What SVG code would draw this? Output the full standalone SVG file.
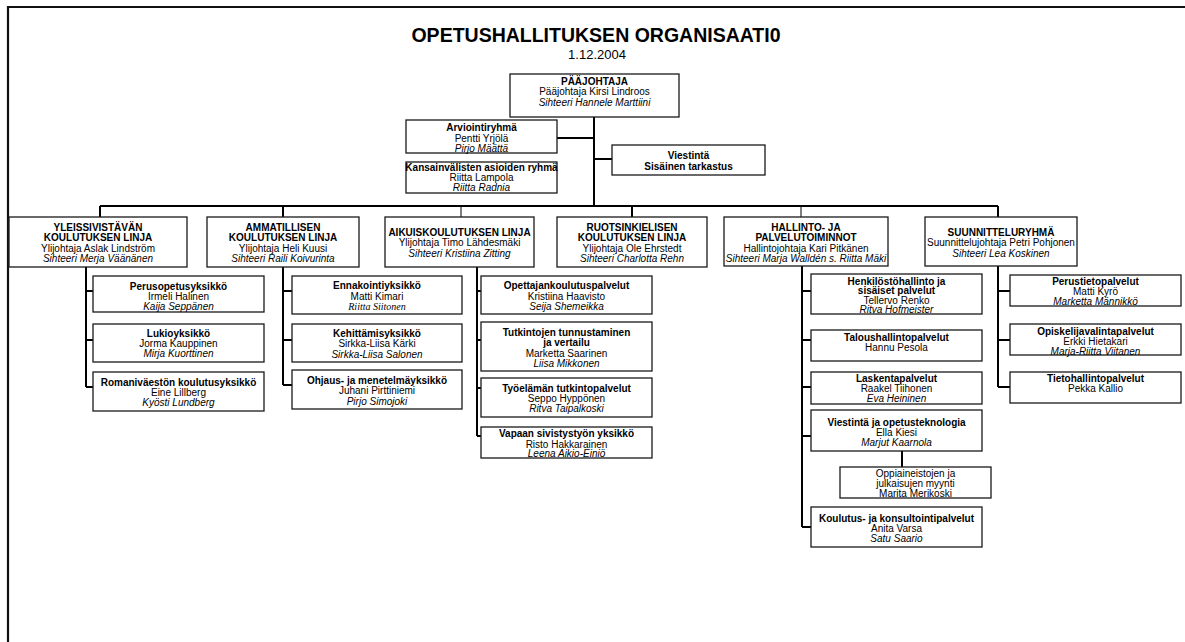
<svg xmlns="http://www.w3.org/2000/svg" width="1185" height="642" viewBox="0 0 1185 642">
<style>
rect.bx{fill:#fff;stroke:#1a1a1a;stroke-width:1.3}
text{font-family:"Liberation Sans",Arial,sans-serif;font-size:10px;fill:#000;text-anchor:middle}
.bd{font-weight:bold}
.it{font-style:italic}
.tm{font-family:"Liberation Serif","Times New Roman",serif;font-style:italic}
.ln{stroke:#000;stroke-width:2;fill:none}
.th{stroke:#000;stroke-width:1;fill:none}
.fr{stroke:#111;stroke-width:2.2;fill:none}
</style>
<rect width="1185" height="642" fill="#fff"/>
<path class="fr" d="M8,642 V7 H1185"/>
<g id="title">
<text x="596" y="42" class="bd" style="font-size:19.5px">OPETUSHALLITUKSEN ORGANISAATI0</text>
<text x="597" y="58.5" style="font-size:13px">1.12.2004</text>
</g>
<g id="connectors">
<path class="ln" d="M594,117 V206 M557,138 H594 M594,159 H612 M100,206 H998 M100,206 V217 M283,206 V217 M632,206 V217 M998,206 V217"/>
<path class="th" d="M461,206 V217 M801,206 V217"/>
<path class="ln" d="M86,267 V387 M86,291 H93 M86,340 H93 M86,387 H93"/>
<path class="ln" d="M283,267 V385 M283,291 H292 M283,340 H292 M283,385 H292"/>
<path class="ln" d="M477,267 V436 M477,291 H481 M477,340 H481 M477,388 H481 M477,436 H481"/>
<path class="ln" d="M802,266 V527 M802,291 H811 M802,340 H811 M802,387 H811 M802,436 H811 M802,527 H811 M902,451 V467"/>
<path class="ln" d="M998,266 V387 M998,291 H1010 M998,340 H1010 M998,387 H1010"/>
</g>
<g id="paajohtaja"><rect class="bx" x="510" y="74" width="169" height="43"/>
<text x="594.5" y="85" class="bd">PÄÄJOHTAJA</text><text x="594.5" y="95">Pääjohtaja Kirsi Lindroos</text><text x="594.5" y="106" class="it">Sihteeri Hannele Marttiini</text></g>
<g id="arviointiryhma"><rect class="bx" x="406" y="120" width="151" height="33"/>
<text x="481.5" y="130.5" class="bd">Arviointiryhmä</text><text x="481.5" y="141.5">Pentti Yrjölä</text><text x="481.5" y="151.5" class="it">Pirjo Määttä</text></g>
<g id="kansainvaliset"><rect class="bx" x="406" y="162" width="151" height="31"/>
<text x="481.5" y="170.5" class="bd">Kansainvälisten asioiden ryhmä</text><text x="481.5" y="180.5">Riitta Lampola</text><text x="481.5" y="191" class="it">Riitta Radnia</text></g>
<g id="viestinta"><rect class="bx" x="612" y="145" width="153" height="30"/>
<text x="688.5" y="158.5" class="bd">Viestintä</text><text x="688.5" y="169.5" class="bd">Sisäinen tarkastus</text></g>

<g id="yleissivistava"><rect class="bx" x="9" y="217" width="178" height="50"/>
<text x="98" y="230.5" class="bd">YLEISSIVISTÄVÄN</text><text x="98" y="241" class="bd">KOULUTUKSEN LINJA</text><text x="98" y="251.5">Ylijohtaja Aslak Lindström</text><text x="98" y="262" class="it">Sihteeri Merja Väänänen</text></g>
<g id="ammatillinen"><rect class="bx" x="207" y="217" width="152" height="50"/>
<text x="283" y="230.5" class="bd">AMMATILLISEN</text><text x="283" y="241" class="bd">KOULUTUKSEN LINJA</text><text x="283" y="251.5">Ylijohtaja Heli Kuusi</text><text x="283" y="262" class="it">Sihteeri Raili Koivurinta</text></g>
<g id="aikuiskoulutus"><rect class="bx" x="385" y="217" width="149" height="50"/>
<text x="459.5" y="235.5" class="bd">AIKUISKOULUTUKSEN LINJA</text><text x="459.5" y="246">Ylijohtaja Timo Lähdesmäki</text><text x="459.5" y="256.5" class="it">Sihteeri Kristiina Zitting</text></g>
<g id="ruotsinkielinen"><rect class="bx" x="557" y="217" width="150" height="50"/>
<text x="632" y="230.5" class="bd">RUOTSINKIELISEN</text><text x="632" y="241" class="bd">KOULUTUKSEN LINJA</text><text x="632" y="251.5">Ylijohtaja Ole Ehrstedt</text><text x="632" y="262" class="it">Sihteeri Charlotta Rehn</text></g>
<g id="hallinto"><rect class="bx" x="724" y="217" width="164" height="49"/>
<text x="806" y="230.5" class="bd">HALLINTO- JA</text><text x="806" y="241" class="bd">PALVELUTOIMINNOT</text><text x="806" y="251.5">Hallintojohtaja Kari Pitkänen</text><text x="806" y="262" class="it">Sihteeri Marja Walldén s. Riitta Mäki</text></g>
<g id="suunnittelu"><rect class="bx" x="925" y="217" width="152" height="49"/>
<text x="1001" y="235.5" class="bd">SUUNNITTELURYHMÄ</text><text x="1001" y="246">Suunnittelujohtaja Petri Pohjonen</text><text x="1001" y="256.5" class="it">Sihteeri Lea Koskinen</text></g>

<g id="perusopetus"><rect class="bx" x="93" y="276" width="171" height="36"/>
<text x="178.5" y="289.5" class="bd">Perusopetusyksikkö</text><text x="178.5" y="299.5">Irmeli Halinen</text><text x="178.5" y="309.5" class="it">Kaija Seppänen</text></g>
<g id="lukio"><rect class="bx" x="93" y="324" width="171" height="38"/>
<text x="178.5" y="336.5" class="bd">Lukioyksikkö</text><text x="178.5" y="346.5">Jorma Kauppinen</text><text x="178.5" y="356.5" class="it">Mirja Kuorttinen</text></g>
<g id="romani"><rect class="bx" x="93" y="372" width="171" height="39"/>
<text x="178.5" y="385.5" class="bd">Romaniväestön koulutusyksikkö</text><text x="178.5" y="395.5">Eine Lillberg</text><text x="178.5" y="405.5" class="it">Kyösti Lundberg</text></g>

<g id="ennakointi"><rect class="bx" x="292" y="276" width="170" height="38"/>
<text x="377" y="289" class="bd">Ennakointiyksikkö</text><text x="377" y="299.5">Matti Kimari</text><text x="377" y="309.5" class="tm">Riitta Siitonen</text></g>
<g id="kehittamis"><rect class="bx" x="292" y="324" width="170" height="38"/>
<text x="377" y="336.5" class="bd">Kehittämisyksikkö</text><text x="377" y="347">Sirkka-Liisa Kärki</text><text x="377" y="357.5" class="it">Sirkka-Liisa Salonen</text></g>
<g id="ohjaus"><rect class="bx" x="292" y="370" width="170" height="39"/>
<text x="377" y="383.5" class="bd">Ohjaus- ja menetelmäyksikkö</text><text x="377" y="394">Juhani Pirttiniemi</text><text x="377" y="404.5" class="it">Pirjo Simojoki</text></g>

<g id="opettajankoulutus"><rect class="bx" x="481" y="276" width="171" height="38"/>
<text x="566.5" y="288.5" class="bd">Opettajankoulutuspalvelut</text><text x="566.5" y="299.5">Kristiina Haavisto</text><text x="566.5" y="309.5" class="it">Seija Shemeikka</text></g>
<g id="tutkintojen"><rect class="bx" x="481" y="322" width="171" height="49"/>
<text x="566.5" y="335.5" class="bd">Tutkintojen tunnustaminen</text><text x="566.5" y="345.5" class="bd">ja vertailu</text><text x="566.5" y="356.5">Marketta Saarinen</text><text x="566.5" y="366.5" class="it">Liisa Mikkonen</text></g>
<g id="tyoelama"><rect class="bx" x="481" y="378" width="171" height="39"/>
<text x="566.5" y="391.5" class="bd">Työelämän tutkintopalvelut</text><text x="566.5" y="401.5">Seppo Hyppönen</text><text x="566.5" y="412" class="it">Ritva Taipalkoski</text></g>
<g id="vapaan"><rect class="bx" x="481" y="427" width="171" height="31"/>
<text x="566.5" y="436.5" class="bd">Vapaan sivistystyön yksikkö</text><text x="566.5" y="447.5">Risto Hakkarainen</text><text x="566.5" y="457" class="it">Leena Aikio-Einiö</text></g>

<g id="henkilosto"><rect class="bx" x="811" y="274" width="171" height="40"/>
<text x="896.5" y="284.5" class="bd">Henkilöstöhallinto ja</text><text x="896.5" y="294" class="bd">sisäiset palvelut</text><text x="896.5" y="303.5">Tellervo Renko</text><text x="896.5" y="313" class="it">Ritva Hofmeister</text></g>
<g id="talous"><rect class="bx" x="811" y="330" width="171" height="31"/>
<text x="896.5" y="340.5" class="bd">Taloushallintopalvelut</text><text x="896.5" y="350.5">Hannu Pesola</text></g>
<g id="laskenta"><rect class="bx" x="811" y="372" width="171" height="32"/>
<text x="896.5" y="381.5" class="bd">Laskentapalvelut</text><text x="896.5" y="391.5">Raakel Tiihonen</text><text x="896.5" y="401.5" class="it">Eva Heininen</text></g>
<g id="viestinta-opetus"><rect class="bx" x="811" y="410" width="171" height="41"/>
<text x="896.5" y="425.5" class="bd">Viestintä ja opetusteknologia</text><text x="896.5" y="435.5">Ella Kiesi</text><text x="896.5" y="445.5" class="it">Marjut Kaarnola</text></g>
<g id="oppiaineistot"><rect class="bx" x="840" y="467" width="151" height="31"/>
<text x="915.5" y="476.5">Oppiaineistojen ja</text><text x="915.5" y="486.5">julkaisujen myynti</text><text x="915.5" y="496.5">Marita Merikoski</text></g>
<g id="koulutus-konsultointi"><rect class="bx" x="811" y="507" width="171" height="40"/>
<text x="896.5" y="521.5" class="bd">Koulutus- ja konsultointipalvelut</text><text x="896.5" y="531.5">Anita Varsa</text><text x="896.5" y="541.5" class="it">Satu Saario</text></g>

<g id="perustieto"><rect class="bx" x="1010" y="275" width="171" height="31"/>
<text x="1095.5" y="284.5" class="bd">Perustietopalvelut</text><text x="1095.5" y="294.5">Matti Kyrö</text><text x="1095.5" y="304.5" class="it">Marketta Männikkö</text></g>
<g id="opiskelijavalinta"><rect class="bx" x="1010" y="324" width="171" height="31"/>
<text x="1095.5" y="334.5" class="bd">Opiskelijavalintapalvelut</text><text x="1095.5" y="344.5">Erkki Hietakari</text><text x="1095.5" y="354.5" class="it">Marja-Riitta Viitanen</text></g>
<g id="tietohallinto"><rect class="bx" x="1010" y="372" width="171" height="31"/>
<text x="1095.5" y="381.5" class="bd">Tietohallintopalvelut</text><text x="1095.5" y="391.5">Pekka Kallio</text></g>
</svg>
